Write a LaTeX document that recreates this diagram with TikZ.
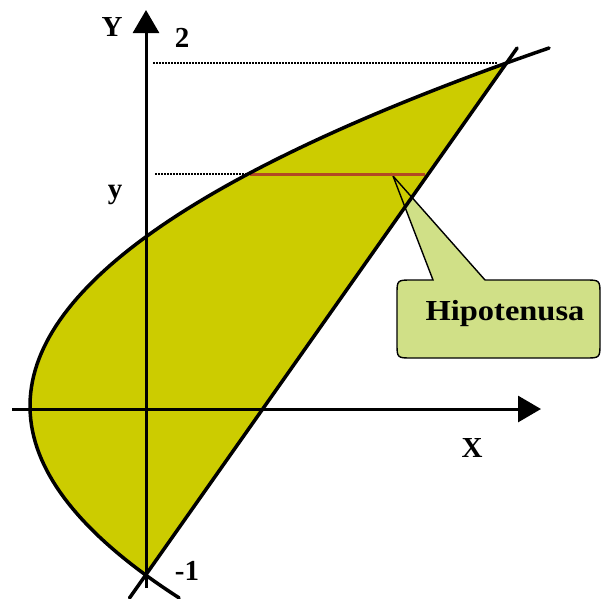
\documentclass[tikz,border=0pt]{standalone}
\usepackage{fontspec}
\setmainfont{Liberation Serif}
\usetikzlibrary{arrows.meta}
\definecolor{regionfill}{RGB}{204,204,0}
\definecolor{calloutfill}{RGB}{208,224,135}
\definecolor{hypcolor}{RGB}{178,72,36}
\begin{document}
\begin{tikzpicture}[x=1pt,y=-1pt,
  lab/.style={font=\fontsize{29}{30}\selectfont\bfseries, inner sep=0pt, anchor=base},
  axis/.style={line width=3pt, -{Triangle[length=23pt,width=26pt]}},
  curve/.style={line width=3.5pt, line cap=round},
  guide/.style={line width=1.6pt, dash pattern=on 1.5pt off 1.5pt},
  callout/.style={line width=1.4pt}]
\useasboundingbox (0,0) rectangle (608,598);
% named points
\coordinate (top) at (506.5,63);
\coordinate (bot) at (145.7,575);
\coordinate (ltop) at (517.1,48);
\coordinate (lbot) at (129.5,598);
\coordinate (tip) at (393,176);
\def\calloutpath{(412,280) -- (433,280) -- (tip) -- (485,280) -- (585,280) .. controls (600,280) .. (600,295) -- (600,343) .. controls (600,358) .. (585,358) -- (412,358) .. controls (397,358) .. (397,343) -- (397,295) .. controls (397,280) .. (412,280) -- cycle}
% callout fill
\fill[calloutfill] \calloutpath;
% region
\fill[regionfill] plot[domain=-3.43:1.69, samples=90, variable=\t] ({40.5*\t*\t+30},{406+100*\t}) -- cycle;
% callout outline
\draw[callout, line join=miter] \calloutpath;
% dotted guides
\draw[guide] (153,63) -- (497,63);
\draw[guide] (155,174) -- (250,174);
% hypotenuse
\draw[hypcolor, line width=3pt] (250,174) -- (425,174);
% axes
\draw[axis] (12,409) -- (541,409);
\draw[axis] (146,588) -- (146,10);
% curves
\draw[curve] plot[domain=-3.58:1.92, samples=100, variable=\t] ({40.5*\t*\t+30},{406+100*\t});
\draw[curve] (ltop) -- (lbot);
% labels
\node[lab] (lY) at (112,36) {Y};
\node[lab] (l2) at (182,47) {2};
\node[lab] (ly) at (115,198) {y};
\node[lab] (lX) at (472,457) {X};
\node[lab] (lm1) at (187,580) {-1};
\node[lab, xscale=1.12] (lh) at (505,320) {Hipotenusa};
\end{tikzpicture}
\end{document}
